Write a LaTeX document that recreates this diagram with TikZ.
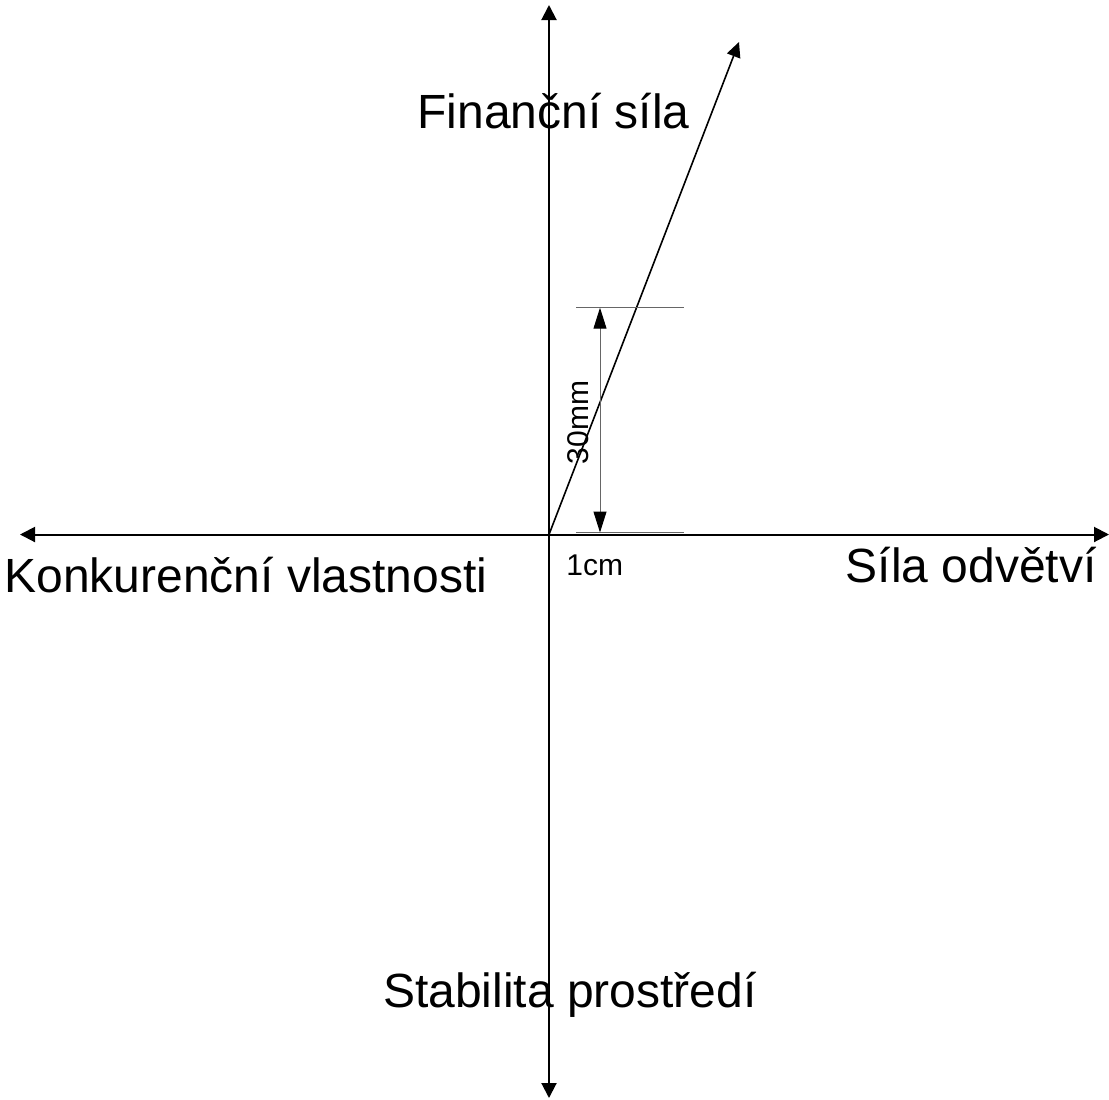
\documentclass[tikz,border=0pt]{standalone}
\usepackage{fontspec}
\setmainfont{Liberation Sans}
\usetikzlibrary{arrows.meta}

\tikzset{
  axis/.style={line width=1pt, {Triangle[length=7.5pt,width=7.5pt]}-{Triangle[length=7.5pt,width=7.5pt]}},
  vector/.style={line width=0.8pt, -{Triangle[length=7.5pt,width=7pt]}},
  dimline/.style={line width=0.5pt, black!60},
  dimarrow/.style={line width=0.5pt, black!60, {Triangle[length=10.5pt,width=6.5pt,color=black]}-{Triangle[length=10.5pt,width=6.5pt,color=black]}},
  biglabel/.style={font=\fontsize{24}{28}\selectfont, inner sep=0pt},
  smalllabel/.style={font=\fontsize{15}{18}\selectfont, inner sep=0pt}
}

\begin{document}
\begin{tikzpicture}[x=0.5pt, y=-0.5pt]
    \useasboundingbox (0,0) rectangle (1109,1099);

    % Axis ends
    \coordinate (O) at (549,534.5);
    \coordinate (top) at (549,5);
    \coordinate (bottom) at (549,1098);
    \coordinate (left) at (20,534.5);
    \coordinate (right) at (1109,534.5);
    \coordinate (tip) at (739,42);

    % Axes
    \draw[axis] (bottom) -- (top);
    \draw[axis] (left) -- (right);

    % Vector from the origin
    \draw[vector] (O) -- (tip);

    % Dimension 30mm
    \coordinate (ticktopL) at (576,307.7);
    \coordinate (ticktopR) at (684,307.7);
    \coordinate (tickbotL) at (576,532.5);
    \coordinate (tickbotR) at (684,532.5);
    \coordinate (dimtop) at (600,307.7);
    \coordinate (dimbot) at (600,532.5);
    \draw[dimline] (ticktopL) -- (ticktopR);
    \draw[dimline] (tickbotL) -- (tickbotR);
    \draw[dimarrow] (dimbot) -- (dimtop);

    % Labels
    \node[biglabel, anchor=base] (fin) at (553.5,128) {Finanční síla};
    \node[biglabel, anchor=base west] (konk) at (4,592) {Konkurenční vlastnosti};
    \node[biglabel, anchor=base east] (odv) at (1097,582) {Síla odvětví};
    \node[biglabel, anchor=base] (stab) at (570,1007) {Stabilita prostředí};
    \node[smalllabel, anchor=base west] (cm) at (566,575) {1cm};
    \node[smalllabel, rotate=90] (mm) at (578,422.5) {30mm};
\end{tikzpicture}
\end{document}
